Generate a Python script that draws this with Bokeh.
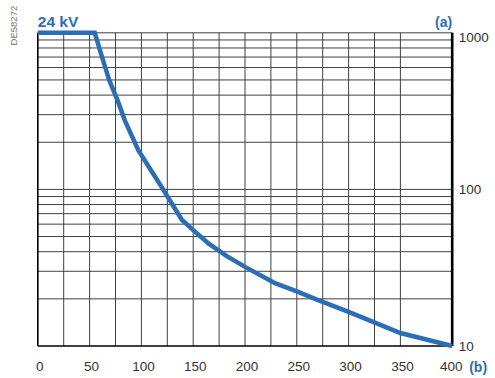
import math
from bokeh.plotting import figure
from bokeh.models import Range1d, Label
from bokeh.core.properties import value
from bokeh.embed import file_html
from bokeh.resources import INLINE

# ---- data ----
curve_x = [0, 55, 62, 69, 77, 84, 97, 110, 121, 131, 139, 150, 165, 182, 200, 229, 250, 270, 300, 323, 350, 375, 400]
curve_y = [1000, 1000, 700, 497, 370, 276, 178, 130, 100, 78, 64, 55, 45, 37.6, 32, 25.2, 22.3, 19.7, 16.5, 14.3, 12.1, 11.0, 10]

x_ticks = [0, 50, 100, 150, 200, 250, 300, 350, 400]
x_tick_labels = ["0", "50", "100", "150", "200", "250", "300", "350", "400"]
x_grid = [25, 50, 75, 100, 125, 150, 175, 200, 225, 250, 275, 300, 325, 350]
y_ticks = [10, 100, 1000]
y_tick_labels = ["10", "100", "1000"]
y_grid = [20, 30, 40, 50, 60, 70, 80, 90, 100, 200, 300, 400, 500, 600, 700, 800, 900, 1000]
x_min, x_max = 0, 400
y_min, y_max = 10, 1000

title_text = "24 kV"
y_label = "(a)"
x_label = "(b)"
ref_code = "DE58272"

BLUE = "#2b6db6"
GRID = "#404040"
TXT = "#333333"
FONT = "Liberation Sans"

# ---- layout: the frame fills the whole canvas ----
W, H = 495, 378
px0, px400 = 37.3, 451.7          # where x=0 and x=400 fall
py1000, py10 = 32.3, 345.5        # where y=1000 and y=10 fall
sx = (px400 - px0) / (x_max - x_min)
xs = x_min - px0 / sx
xe = xs + W / sx
dec = (py10 - py1000) / (math.log10(y_max) - math.log10(y_min))
hi = math.log10(y_max) + py1000 / dec
lo = math.log10(y_min) - (H - py10) / dec

p = figure(width=W, height=H, y_axis_type="log",
           x_range=Range1d(xs, xe), y_range=Range1d(10 ** lo, 10 ** hi),
           x_axis_location=None, y_axis_location=None,
           output_backend="svg", toolbar_location=None,
           min_border=0, min_border_left=0, min_border_right=0,
           min_border_top=0, min_border_bottom=0)
p.outline_line_color = None
p.xgrid.visible = False
p.ygrid.visible = False
p.background_fill_color = "white"
p.border_fill_color = "white"

# grid lines
p.segment(x0=x_grid, x1=x_grid, y0=[y_min] * len(x_grid), y1=[y_max] * len(x_grid),
          line_color=GRID, line_width=1)
p.segment(x0=[x_min] * len(y_grid), x1=[x_max] * len(y_grid), y0=y_grid, y1=y_grid,
          line_color=GRID, line_width=1)
# frame borders
p.segment(x0=[x_min, x_min], x1=[x_min, x_max], y0=[y_min, y_min], y1=[y_max, y_min],
          line_color="black", line_width=1.6)
p.segment(x0=[x_max], x1=[x_max], y0=[y_min], y1=[y_max], line_color="black", line_width=2.6)

# curve
p.line(curve_x, curve_y, line_color=BLUE, line_width=4.5, line_join="miter", line_cap="butt")

# tick labels (bottom)
p.text(x=x_ticks[:-1], y=[y_min] * (len(x_ticks) - 1), text=x_tick_labels[:-1],
       x_offset=2, y_offset=20.5, text_align="center", text_baseline="middle",
       text_font=value(FONT), text_font_size="13.5px", text_color=TXT)
p.text(x=x_ticks[-1:], y=[y_min], text=x_tick_labels[-1:],
       x_offset=-1, y_offset=20.5, text_align="center", text_baseline="middle",
       text_font=value(FONT), text_font_size="13.5px", text_color=TXT)
# tick labels (right)
p.text(x=[x_max] * 2, y=y_ticks[:2], text=y_tick_labels[:2],
       x_offset=6.6, y_offset=0.5, text_align="left", text_baseline="middle",
       text_font=value(FONT), text_font_size="13.5px", text_color=TXT)
p.text(x=[x_max], y=y_ticks[2:], text=y_tick_labels[2:],
       x_offset=6.6, y_offset=5, text_align="left", text_baseline="middle",
       text_font=value(FONT), text_font_size="13.5px", text_color=TXT)

# other texts
p.add_layout(Label(x=x_min, y=y_max, text=title_text, x_offset=0, y_offset=11,
                   text_align="left", text_baseline="alphabetic", text_font=FONT,
                   text_font_size="15.5px", text_font_style="bold", text_color=BLUE))
p.add_layout(Label(x=x_max, y=y_max, text=y_label, x_offset=0, y_offset=10.5,
                   text_align="right", text_baseline="alphabetic", text_font=FONT,
                   text_font_size="14px", text_font_style="bold", text_color=BLUE))
p.add_layout(Label(x=x_max, y=y_min, text=x_label, x_offset=17, y_offset=-21,
                   text_align="left", text_baseline="alphabetic", text_font=FONT,
                   text_font_size="14px", text_font_style="bold", text_color=BLUE))
p.add_layout(Label(x=x_min, y=y_max, text=ref_code, x_offset=-24.3, y_offset=27,
                   angle=math.pi / 2, text_align="right", text_baseline="middle",
                   text_font=FONT, text_font_size="9.5px", text_color="#777777"))

open("out.html", "w").write(file_html(p, INLINE))
